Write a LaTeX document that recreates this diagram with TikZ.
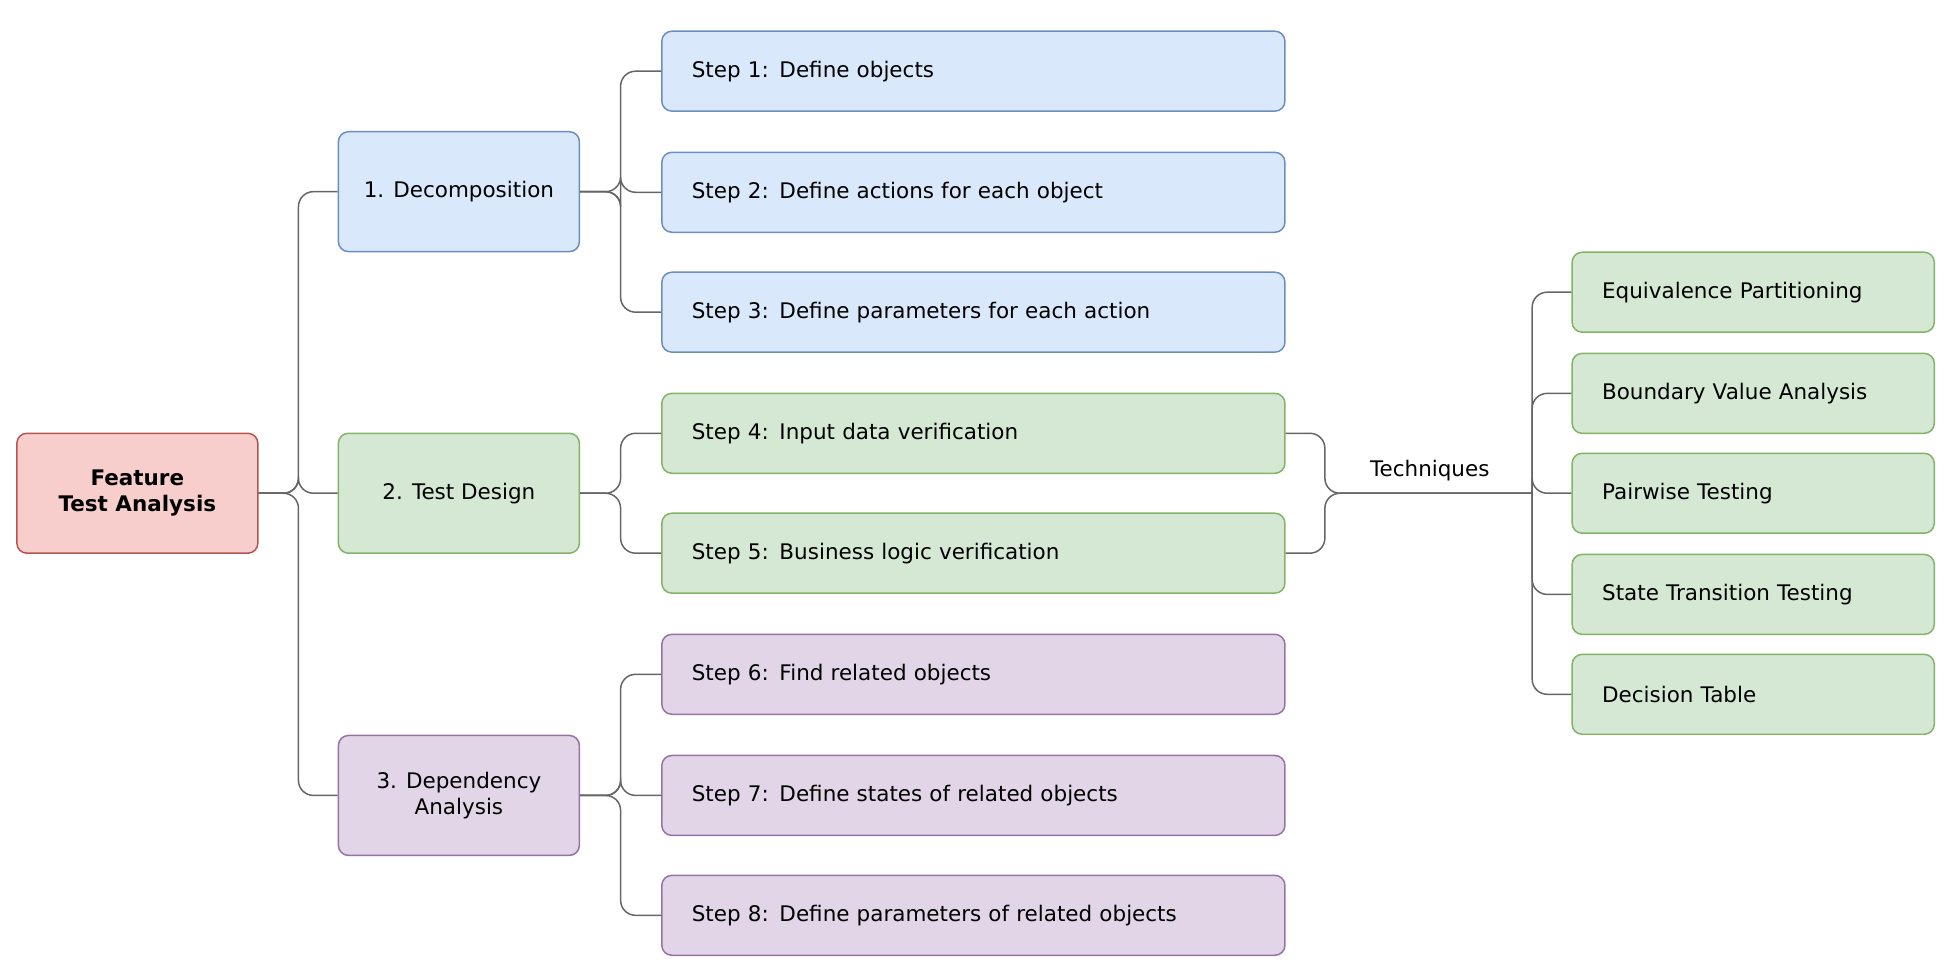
\documentclass[tikz,border=0pt]{standalone}
\usepackage{fontspec}
\setmainfont{DejaVu Sans}
\definecolor{bF}{HTML}{DAE8FC}\definecolor{bS}{HTML}{6C8EBF}
\definecolor{gF}{HTML}{D5E8D4}\definecolor{gS}{HTML}{82B366}
\definecolor{pF}{HTML}{E1D5E7}\definecolor{pS}{HTML}{9673A6}
\definecolor{rF}{HTML}{F8CECC}\definecolor{rS}{HTML}{B85450}
\definecolor{ln}{HTML}{666666}
\begin{document}
\begin{tikzpicture}[x=0.5pt,y=-0.5pt,font=\fontsize{8.6}{10.5}\selectfont,
 box/.style={draw,rounded corners=4pt,line width=0.6pt,inner sep=0pt,align=center},
 mid/.style={box,minimum width=193*0.5pt,minimum height=96*0.5pt},
 stepbox/.style={box,minimum width=499*0.5pt,minimum height=64*0.5pt,text width=451*0.5pt,align=left},
 tech/.style={box,minimum width=290*0.5pt,minimum height=64*0.5pt,text width=242*0.5pt,align=left},
 B/.style={fill=bF,draw=bS},G/.style={fill=gF,draw=gS},P/.style={fill=pF,draw=pS},
 con/.style={draw=ln,line width=0.6pt,rounded corners=6pt}]
\useasboundingbox (0,0) rectangle (1560,781);
\node[mid,fill=rF,draw=rS,font=\fontsize{8.6}{10.5}\selectfont\bfseries] (root) at (110,395) {Feature\\Test Analysis};
\node[mid,B] (d) at (367.5,153.5) {1. Decomposition};
\node[mid,G] (t) at (367.5,395) {2. Test Design};
\node[mid,P] (p) at (367.5,637) {3. Dependency\\Analysis};
\node[stepbox,B] (s1) at (779.5,57) {Step 1: Define objects};
\node[stepbox,B] (s2) at (779.5,154) {Step 2: Define actions for each object};
\node[stepbox,B] (s3) at (779.5,250) {Step 3: Define parameters for each action};
\node[stepbox,G] (s4) at (779.5,347) {Step 4: Input data verification};
\node[stepbox,G] (s5) at (779.5,443) {Step 5: Business logic verification};
\node[stepbox,P] (s6) at (779.5,540) {Step 6: Find related objects};
\node[stepbox,P] (s7) at (779.5,637) {Step 7: Define states of related objects};
\node[stepbox,P] (s8) at (779.5,733) {Step 8: Define parameters of related objects};
\node[tech,G] (e1) at (1404,234) {Equivalence Partitioning};
\node[tech,G] (e2) at (1404,315) {Boundary Value Analysis};
\node[tech,G] (e3) at (1404,395) {Pairwise Testing};
\node[tech,G] (e4) at (1404,476) {State Transition Testing};
\node[tech,G] (e5) at (1404,556) {Decision Table};
\coordinate (tj) at (1061,395);
\coordinate (tk) at (1227,395);
\foreach \c in {d,t,p} \draw[con] (root.east) -- (239,395) |- (\c.west);
\foreach \c in {s1,s2,s3} \draw[con] (d.east) -- (497,153.5) |- (\c.west);
\foreach \c in {s4,s5} \draw[con] (t.east) -- (497,395) |- (\c.west);
\foreach \c in {s6,s7,s8} \draw[con] (p.east) -- (497,637) |- (\c.west);
\foreach \c in {s4,s5} \draw[con] (\c.east) -| (tj) -- (tk);
\foreach \c in {e1,e2,e3,e4,e5} \draw[con] (tk) |- (\c.west);
\node[anchor=south] (lbl) at (1145,392) {Techniques};
\end{tikzpicture}
\end{document}
